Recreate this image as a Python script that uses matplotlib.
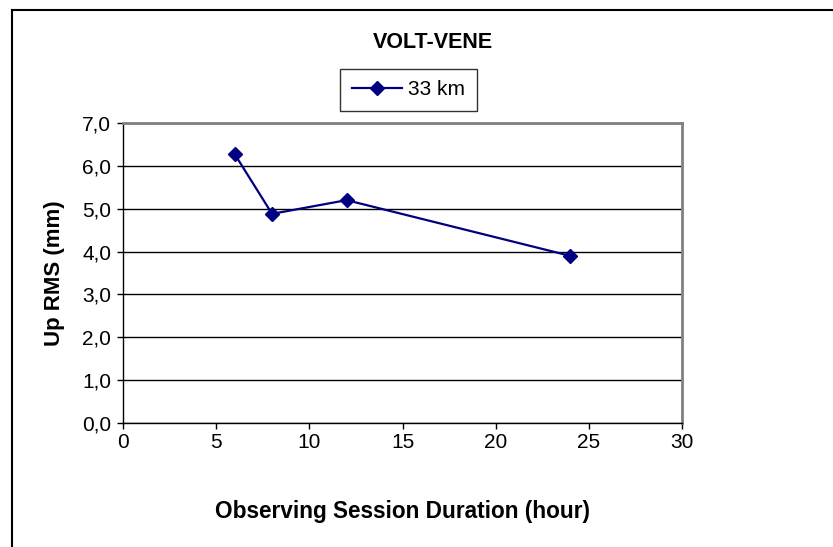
import matplotlib
matplotlib.use("Agg")
import matplotlib.pyplot as plt
from matplotlib.lines import Line2D

plt.rcParams['font.family'] = ['Liberation Sans', 'DejaVu Sans']

# Session duration (hours) vs. Up-component RMS (mm)
duration_h = [6, 8, 12, 24]
up_rms_mm = [6.27, 4.88, 5.20, 3.90]
series_label = "33 km"
title = "VOLT-VENE"

x_ticks = [0, 5, 10, 15, 20, 25, 30]
y_ticks = [0, 1, 2, 3, 4, 5, 6, 7]
y_tick_labels = ["0,0", "1,0", "2,0", "3,0", "4,0", "5,0", "6,0", "7,0"]

W, H = 833, 547
fig = plt.figure(figsize=(W / 100, H / 100), dpi=100)
fig.patch.set_facecolor("white")

# plot area in pixel coordinates
px_l, px_r, px_t, px_b = 123, 682, 123, 423
ax = fig.add_axes([px_l / W, 1 - px_b / H, (px_r - px_l) / W, (px_b - px_t) / H])

navy = "#000080"
ax.plot(duration_h, up_rms_mm, color=navy, lw=1.6, marker="D", ms=7.5,
        markerfacecolor=navy, markeredgecolor=navy, label=series_label,
        zorder=3, clip_on=False)

ax.set_xlim(x_ticks[0], x_ticks[-1])
ax.set_ylim(y_ticks[0], y_ticks[-1])
ax.set_xticks(x_ticks)
ax.set_xticklabels([str(v) for v in x_ticks])
ax.set_yticks(y_ticks)
ax.set_yticklabels(y_tick_labels)

ax.yaxis.grid(True, color="#000000", lw=1.0)
ax.set_axisbelow(True)

for side in ("top", "right"):
    ax.spines[side].set_color("#808080")
    ax.spines[side].set_linewidth(2.0)
for side in ("left", "bottom"):
    ax.spines[side].set_color("#000000")
    ax.spines[side].set_linewidth(1.0)

ax.tick_params(axis="both", direction="out", length=4.5, width=1.0,
               color="#000000", labelsize=15, labelcolor="#000000")
ax.tick_params(axis="y", pad=4)
ax.tick_params(axis="x", pad=3)

ax.set_xlabel("Observing Session Duration (hour)", fontsize=16.3,
              fontweight="bold", labelpad=34)
ax.set_ylabel("Up RMS (mm)", fontsize=16, fontweight="bold", labelpad=12)

fig.text(433 / W, 1 - 42 / H, title, ha="center", va="center",
         fontsize=15.5, fontweight="bold")

leg = fig.legend(loc="center", bbox_to_anchor=(408.5 / W, 1 - 90 / H),
                 fontsize=15, frameon=True, fancybox=False, shadow=False,
                 handlelength=2.4, handletextpad=0.3, borderpad=0.55,
                 borderaxespad=0)
leg.get_frame().set_edgecolor("#000000")
leg.get_frame().set_linewidth(1.0)

# outer chart frame (top and left edges visible)
fig.add_artist(Line2D([11.5 / W, 1.0], [1 - 9.5 / H, 1 - 9.5 / H],
                      transform=fig.transFigure, color="#000000", lw=1.5))
fig.add_artist(Line2D([11.5 / W, 11.5 / W], [0.0, 1 - 9.5 / H],
                      transform=fig.transFigure, color="#000000", lw=1.5))

fig.savefig("out.png", dpi=100)
